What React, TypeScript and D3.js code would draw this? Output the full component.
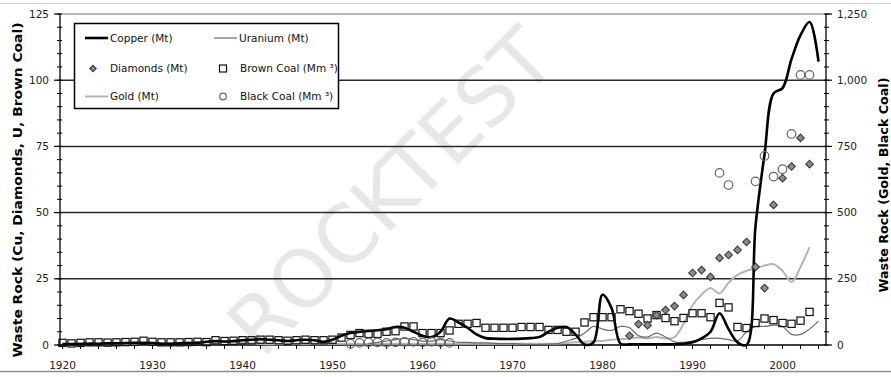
import React from 'react';
import * as d3 from 'd3';

const W = 891;
const H = 377;
const FONT = "'DejaVu Sans', Verdana, sans-serif";

// Left axis series (Mt / Mm3)
const copperStart = 1920;
const copperValues = [
  0.3, 0.3, 0.4, 0.5, 0.5, 0.6, 0.6, 0.7, 0.8, 0.8,
  0.7, 0.5, 0.5, 0.6, 0.7, 0.8, 1.2, 1.5, 1.3, 1.5,
  1.8, 2.0, 2.2, 2.0, 1.8, 1.5, 1.8, 2.0, 1.8, 1.2,
  2.0, 3.5, 4.5, 5.0, 5.3, 5.6, 6.0, 6.8, 6.5, 5.0,
  3.5, 3.0, 5.0, 10.0, 8.5, 6.5, 4.0, 2.6, 2.4, 2.3,
  2.3, 2.4, 2.6, 3.0, 5.0, 6.5, 6.8, 4.0, 0.2, 1.0,
  19, 14, 0.5, 0.3, 0.3, 0.3, 0.3, 0.3, 0.3, 0.5,
  1.0, 2.5, 5.0, 12, 6, 1, 0, 45, 72, 95,
  97, 108, 117, 122, 107,
];

const uraniumStart = 1954;
const uraniumValues = [
  0.5, 1.0, 1.5, 2.0, 2.5, 2.0, 1.5, 1.5, 2.0, 1.5,
  1.0, 1.0, 0.8, 0.8, 0.6, 0.5, 0.5, 0.3, 0.2, 0.2, 0.3, 0.5,
  1.5, 2.5, 4.5, 7.0, 6.0, 5.5, 7.0, 6.5, 3.5, 3.0, 4.5, 3.0, 1.2, 1.0,
  1.5, 2.0, 2.5, 2.5, 2.0, 1.5, 5.0, 7.0, 7.0, 7.5, 7.0, 4.0, 4.0, 6.0, 9.0,
];

const diamondsStart = 1983;
const diamondsValues = [
  3.5, 7.9, 7.5, 11.3, 13.2, 14.7, 18.9, 27.2, 28.3, 25.7,
  32.9, 34.0, 35.9, 38.9, 29.5, 21.5, 52.9, 63.0, 67.4, 78.2, 68.3,
];

const brownCoalStart = 1920;
const brownCoalValues = [
  0.8, 0.6, 0.8, 1.0, 1.0, 0.9, 1.0, 1.1, 1.2, 1.6,
  1.2, 1.0, 1.0, 1.0, 1.1, 1.2, 1.1, 1.8, 1.5, 1.6,
  1.8, 1.8, 2.0, 2.0, 1.8, 1.6, 1.8, 2.0, 1.8, 1.8,
  2.0, 2.8, 3.8, 4.5, 4.2, 4.2, 5.0, 5.2, 7.0, 7.0,
  4.5, 4.5, 4.5, 5.5, 8.0, 8.0, 8.3, 6.5, 6.5, 6.5,
  6.5, 6.8, 6.8, 6.8, 5.7, 5.7, 5.0, 5.0, 8.5, 10.5,
  10.5, 10.5, 13.5, 12.8, 11.8, 10.0, 11.3, 10.2, 9.0, 10.2,
  12.0, 12.0, 10.5, 15.9, 14.2, 6.8, 6.4, 8.3, 10.0, 9.4,
  8.3, 8.0, 9.2, 12.5,
];

// Right axis series (Mt / Mm3)
const goldStart = 1920;
const goldValues = [
  8, 7, 6, 6, 5, 5, 4, 4, 4, 4,
  5, 6, 7, 8, 9, 10, 10, 10, 10, 10,
  8, 6, 4, 3, 3, 4, 4, 5, 5, 5,
  5, 5, 5, 5, 5, 5, 5, 5, 5, 5,
  5, 5, 5, 5, 5, 5, 5, 5, 5, 5,
  5, 5, 5, 5, 5, 5, 8, 10, 12, 15,
  15, 20, 22, 25, 28, 25, 30, 25, 30, 80,
  150, 190, 215, 195, 235, 265, 280, 290, 300, 305,
  280, 238, 295, 370,
];

const blackCoalYears = [1952, 1953, 1954, 1955, 1956, 1957, 1958, 1959, 1960, 1961, 1962, 1963,
  1993, 1994, 1997, 1998, 1999, 2000, 2001, 2002, 2003];
const blackCoalValues = [5, 8, 10, 10, 8, 10, 12, 12, 10, 12, 10, 8,
  650, 604, 618, 714, 636, 664, 797, 1020, 1020];

const leftTicks = [0, 25, 50, 75, 100, 125];
const rightTicks = [0, 250, 500, 750, 1000, 1250];
const rightTickLabels = ['0', '250', '500', '750', '1,000', '1,250'];
const yearTicks = [1920, 1930, 1940, 1950, 1960, 1970, 1980, 1990, 2000];

type P = [number, number];
const seq = (start: number, vals: number[]): P[] => vals.map((v, i) => [start + i, v]);

export default function App() {
  const left = 60, right = 826, top = 14, bottom = 345;
  const x = d3.scaleLinear().domain([1919.72, 2004.83]).range([left, right]);
  const yL = d3.scaleLinear().domain([0, 125]).range([bottom, top]);
  const yR = d3.scaleLinear().domain([0, 1250]).range([bottom, top]);

  const lineL = d3.line<P>().x(d => x(d[0])).y(d => yL(d[1])).curve(d3.curveCatmullRom.alpha(0.5));
  const lineR = d3.line<P>().x(d => x(d[0])).y(d => yR(d[1])).curve(d3.curveCatmullRom.alpha(0.5));

  const copper = seq(copperStart, copperValues);
  const uranium = seq(uraniumStart, uraniumValues);
  const diamonds = seq(diamondsStart, diamondsValues);
  const brown = seq(brownCoalStart, brownCoalValues);
  const gold = seq(goldStart, goldValues);
  const black: P[] = blackCoalYears.map((y, i) => [y, blackCoalValues[i]]);

  const minorL = d3.range(0, 126, 5);
  const minorR = d3.range(0, 1251, 50);
  const xMinor = d3.range(1920, 2005, 2);

  const diamondPath = (cx: number, cy: number, r: number) =>
    `M${cx},${cy - r}L${cx + r},${cy}L${cx},${cy + r}L${cx - r},${cy}Z`;

  return (
    <div style={{ position: 'fixed', left: 0, top: 0, width: W, height: H, background: '#fff' }}>
      <svg width={W} height={H} style={{ display: 'block' }} fontFamily={FONT}>
        <rect x={0} y={0} width={W} height={H} fill="#fff" />
        {/* watermark */}
        <g opacity={0.09} fill="#000">
          <text x={0} y={0} fontSize={80} fontWeight="normal" fontFamily="'DejaVu Sans', sans-serif"
            transform="translate(262,360) rotate(-45)">ROCKTEST</text>
        </g>
        {/* outer frame lines */}
        <line x1={0} x2={W} y1={3.5} y2={3.5} stroke="#d0d0d0" strokeWidth={1} />
        <line x1={0} x2={W} y1={371.5} y2={371.5} stroke="#8a8a8a" strokeWidth={1.5} />

        {/* gridlines */}
        {[25, 50, 75, 100].map(v => (
          <line key={v} x1={left} x2={right} y1={yL(v)} y2={yL(v)} stroke="#2a2a2a" strokeWidth={1.5} />
        ))}
        <line x1={left} x2={right} y1={yL(125)} y2={yL(125)} stroke="#a0a0a0" strokeWidth={1.5} />

        {/* axes */}
        <line x1={left} x2={left} y1={top} y2={bottom} stroke="#000" strokeWidth={1.3} />
        <line x1={right} x2={right} y1={top} y2={bottom} stroke="#000" strokeWidth={1.3} />
        <line x1={left} x2={right} y1={bottom} y2={bottom} stroke="#000" strokeWidth={1.3} />
        {minorL.map(v => (
          <line key={'ml' + v} x1={left - 3} x2={left + 2} y1={yL(v)} y2={yL(v)} stroke="#000" strokeWidth={1} />
        ))}
        {leftTicks.map(v => (
          <line key={'tl' + v} x1={left - 6} x2={left} y1={yL(v)} y2={yL(v)} stroke="#000" strokeWidth={1.2} />
        ))}
        {minorR.map(v => (
          <line key={'mr' + v} x1={right - 2} x2={right + 3} y1={yR(v)} y2={yR(v)} stroke="#000" strokeWidth={1} />
        ))}
        {rightTicks.map(v => (
          <line key={'tr' + v} x1={right} x2={right + 6} y1={yR(v)} y2={yR(v)} stroke="#000" strokeWidth={1.2} />
        ))}
        {xMinor.map(v => (
          <line key={'xm' + v} x1={x(v)} x2={x(v)} y1={bottom} y2={bottom + 4} stroke="#000" strokeWidth={1} />
        ))}

        {/* tick labels */}
        {leftTicks.map(v => (
          <text key={'ll' + v} x={49} y={yL(v)} dy="0.35em" textAnchor="end" fontSize={10.5} fill="#222">{v}</text>
        ))}
        {rightTicks.map((v, i) => (
          <text key={'rl' + v} x={837} y={yR(v)} dy="0.35em" textAnchor="start" fontSize={10.5} fill="#222">{rightTickLabels[i]}</text>
        ))}
        {yearTicks.map(v => (
          <text key={'xl' + v} x={x(v)} y={365} dy="0.35em" textAnchor="middle" fontSize={10.5} fill="#222">{v}</text>
        ))}

        {/* axis titles */}
        <text transform="translate(22,190) rotate(-90)" textAnchor="middle" fontSize={12.5} fontWeight="bold"
          textLength={335} lengthAdjust="spacingAndGlyphs" fill="#000">Waste Rock (Cu, Diamonds, U, Brown Coal)</text>
        <text transform="translate(888,185) rotate(-90)" textAnchor="middle" fontSize={12.5} fontWeight="bold"
          textLength={215} lengthAdjust="spacingAndGlyphs" fill="#000">Waste Rock (Gold, Black Coal)</text>

        {/* series */}
        <path d={lineR(gold) || ''} fill="none" stroke="#b4b4b4" strokeWidth={2} />
        <path d={lineL(uranium) || ''} fill="none" stroke="#6a6a6a" strokeWidth={1.2} />
        <path d={lineL(copper) || ''} fill="none" stroke="#000" strokeWidth={2.6} />
        {brown.map((d, i) => (
          <rect key={'b' + i} x={x(d[0]) - 3.6} y={yL(d[1]) - 3.6} width={7.2} height={7.2}
            fill="none" stroke="#111" strokeWidth={1.2} />
        ))}
        {diamonds.map((d, i) => (
          <path key={'d' + i} d={diamondPath(x(d[0]), yL(d[1]), 3.8)} fill="#8c8c8c" stroke="#3a3a3a" strokeWidth={1.1} />
        ))}
        {black.map((d, i) => (
          <circle key={'c' + i} cx={x(d[0])} cy={yR(d[1])} r={4.3} fill="none" stroke="#666" strokeWidth={1.2} />
        ))}

        {/* legend */}
        <rect x={74.5} y={23.5} width={264} height={85} fill="#fff" stroke="#000" strokeWidth={1.5} />
        <line x1={85} x2={108} y1={38} y2={38} stroke="#000" strokeWidth={2.6} />
        <text x={110} y={38} dy="0.35em" fontSize={10.5} fill="#111">Copper (Mt)</text>
        <line x1={214} x2={237} y1={38} y2={38} stroke="#6a6a6a" strokeWidth={1.2} />
        <text x={239} y={38} dy="0.35em" fontSize={10.5} fill="#111">Uranium (Mt)</text>
        <path d={diamondPath(93, 68.5, 3.2)} fill="#8c8c8c" stroke="#3a3a3a" strokeWidth={1.1} />
        <text x={110} y={68.5} dy="0.35em" fontSize={10.5} fill="#111">Diamonds (Mt)</text>
        <rect x={219.5} y={65} width={7} height={7} fill="none" stroke="#111" strokeWidth={1.2} />
        <text x={240} y={68.5} dy="0.35em" fontSize={10.5} fill="#111">Brown Coal (Mm ³)</text>
        <line x1={85} x2={108} y1={96.5} y2={96.5} stroke="#b4b4b4" strokeWidth={2} />
        <text x={110} y={96.5} dy="0.35em" fontSize={10.5} fill="#111">Gold (Mt)</text>
        <circle cx={223} cy={96.5} r={3.3} fill="none" stroke="#666" strokeWidth={1.2} />
        <text x={240} y={96.5} dy="0.35em" fontSize={10.5} fill="#111">Black Coal (Mm ³)</text>
      </svg>
    </div>
  );
}
